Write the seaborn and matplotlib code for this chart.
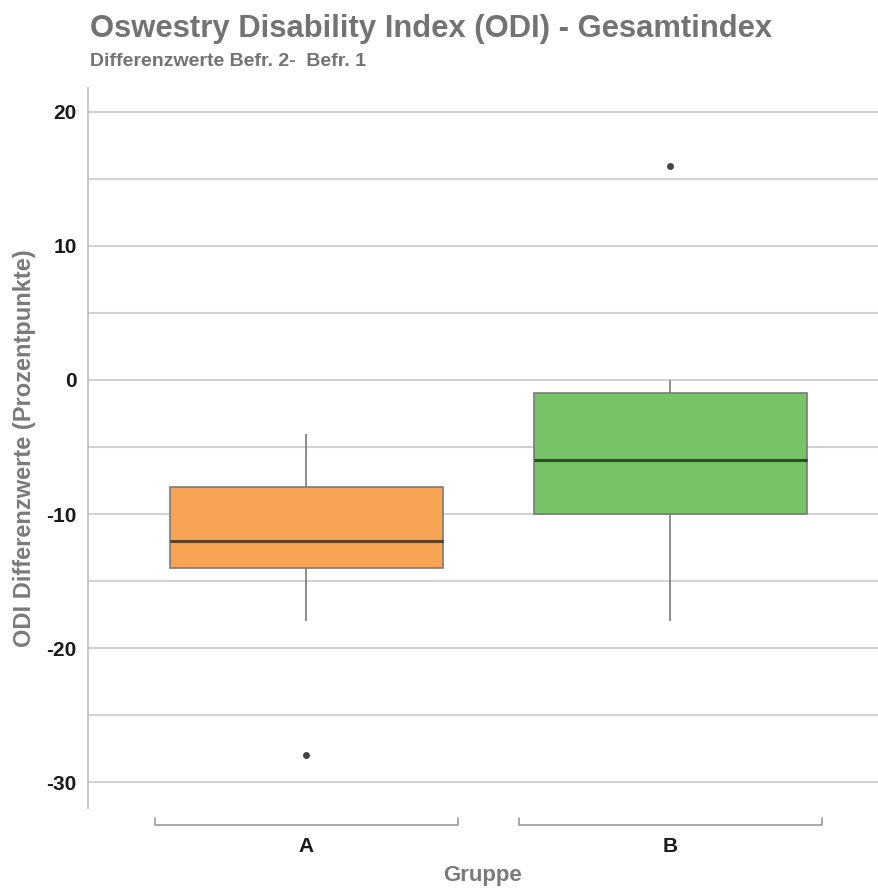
import pandas as pd
import seaborn as sns
import matplotlib.pyplot as plt
from matplotlib.ticker import MultipleLocator

# Differenzwerte je Gruppe
gruppen = ["A", "B"]
werte_a = [-28, -18, -14, -14, -12, -12, -8, -8, -4]
werte_b = [-18, -10, -10, -8, -6, -2, -1, 0, 16]
farben = ["#F7A455", "#78C267"]

df = pd.DataFrame({
    "Gruppe": ["A"] * len(werte_a) + ["B"] * len(werte_b),
    "ODI": werte_a + werte_b,
})

sns.set_style("white")
plt.rcParams["font.family"] = ["Liberation Sans", "DejaVu Sans"]
plt.rcParams["axes.unicode_minus"] = False

fig = plt.figure(figsize=(8.79, 8.88), dpi=100)
ax = fig.add_axes([0.100, 0.090, 0.900, 0.811])

sns.boxplot(data=df, x="Gruppe", y="ODI", hue="Gruppe", order=gruppen,
            palette=farben, saturation=1, width=0.75, linecolor="#7a7a7a",
            linewidth=1.2, showcaps=False, whis=1.5, legend=False, ax=ax,
            medianprops=dict(color="black", alpha=0.6, linewidth=2.2),
            flierprops=dict(marker="o", markersize=5, markerfacecolor="#444444",
                            markeredgecolor="none"))

ax.set_xlim(-0.600, 1.573)
ax.set_ylim(-31.94, 21.79)
ax.yaxis.set_major_locator(MultipleLocator(10))
ax.yaxis.set_minor_locator(MultipleLocator(5))
ax.grid(axis="y", which="both", color="#d2d2d2", linewidth=1.5)
ax.set_axisbelow(True)

for s in ["top", "right", "bottom"]:
    ax.spines[s].set_visible(False)
ax.spines["left"].set_color("#bbbbbb")
ax.spines["left"].set_linewidth(1.2)

ax.tick_params(axis="y", which="major", length=5, color="#bbbbbb", width=1.2,
               labelsize=15, labelcolor="#1a1a1a", pad=3)
ax.tick_params(axis="y", which="minor", length=0)
ax.tick_params(axis="x", length=0, labelsize=15, labelcolor="#1a1a1a", pad=21)
for lab in ax.get_yticklabels() + ax.get_xticklabels():
    lab.set_fontweight("bold")

# Klammern unter den Kategorien
trans = ax.get_xaxis_transform()
for i in range(len(gruppen)):
    x0, x1 = i - 0.417, i + 0.417
    ax.plot([x0, x0, x1, x1], [-0.014, -0.024, -0.024, -0.014], color="#9a9a9a",
            linewidth=1.2, transform=trans, clip_on=False)

ax.set_xlabel("Gruppe", fontsize=16, fontweight="bold", color="#7a7a7a")
ax.xaxis.set_label_coords((483 - 88) / 791, (808 - 875) / 720)
ax.xaxis.label.set_va("center")
ax.set_ylabel("ODI Differenzwerte (Prozentpunkte)", fontsize=17, fontweight="bold",
              color="#7a7a7a")
ax.yaxis.set_label_coords(-0.066, 0.5)

fig.text(0.102, 1 - 29 / 888, "Oswestry Disability Index (ODI) - Gesamtindex",
         fontsize=22.3, fontweight="bold", color="#737373", va="center")
fig.text(0.102, 1 - 61 / 888, "Differenzwerte Befr. 2-  Befr. 1",
         fontsize=14, fontweight="bold", color="#737373", va="center")

fig.savefig("out.png", dpi=100)
